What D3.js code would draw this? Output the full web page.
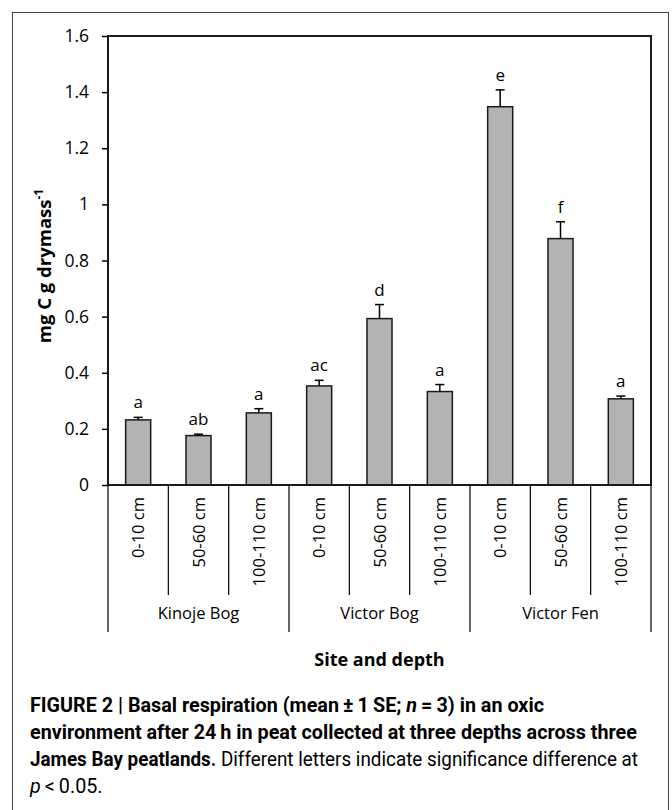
<!DOCTYPE html>
<html>
<head>
<meta charset="utf-8">
<script src="https://cdn.jsdelivr.net/npm/d3@7"></script>
<style>
  body { margin: 0; background: #fff; }
  svg { display: block; }
  .chart text { font-family: "Open Sans", "Noto Sans", sans-serif; fill: #000; }
  .caption text { font-family: "Liberation Sans Narrow", "Roboto", sans-serif; fill: #000; }
</style>
</head>
<body>
<svg id="fig" width="672" height="810"></svg>
<script>
// sites and depths, in drawing order
var sites = ['Kinoje Bog', 'Victor Bog', 'Victor Fen'];
var depths = ['0-10 cm', '50-60 cm', '100-110 cm'];

// mean basal respiration and 1 SE, one per site/depth
var means = [0.232, 0.176, 0.257, 0.353, 0.593, 0.333, 1.348, 0.878, 0.307];
var errors = [0.009, 0.005, 0.015, 0.020, 0.050, 0.025, 0.060, 0.060, 0.010];
var letters = ['a', 'ab', 'a', 'ac', 'd', 'a', 'e', 'f', 'a'];

var yTicks = [0, 0.2, 0.4, 0.6, 0.8, 1, 1.2, 1.4, 1.6];

(function() {
  var svg = d3.select('#fig');

  // outer frame
  svg.append('rect')
    .attr('x', 12.5).attr('y', 12.5)
    .attr('width', 656).attr('height', 810)
    .attr('fill', 'none').attr('stroke', '#444').attr('stroke-width', 1);

  var pLeft = 108, pRight = 651, pTop = 36, pBottom = 485;

  var keys = [];
  sites.forEach(function(s) {
    depths.forEach(function(d) { keys.push(s + '|' + d); });
  });

  var rows = keys.map(function(k, i) {
    return { key: k, site: k.split('|')[0], depth: k.split('|')[1], mean: means[i], se: errors[i], letter: letters[i] };
  });

  var x = d3.scaleBand().domain(keys).range([pLeft, pRight]).padding(0);
  var y = d3.scaleLinear().domain([0, 1.6]).range([pBottom, pTop]);
  var xSite = d3.scaleBand().domain(sites).range([pLeft, pRight]).padding(0);

  var barW = x.bandwidth() * 0.415;

  var g = svg.append('g').attr('class', 'chart');

  // y axis
  var yAxis = d3.axisLeft(y)
    .tickValues(yTicks)
    .tickFormat(function(d) { return String(+d.toFixed(1)); })
    .tickSize(6)
    .tickPadding(13);

  var ya = g.append('g')
    .attr('transform', 'translate(' + pLeft + ',0)')
    .call(yAxis);
  ya.select('.domain').remove();
  ya.attr('font-family', null);
  ya.selectAll('.tick line').attr('stroke', '#000').attr('stroke-width', 1.5);
  ya.selectAll('.tick text').style('font-size', '17.5px');

  // bars
  g.selectAll('rect.bar')
    .data(rows)
    .enter().append('rect')
    .attr('class', 'bar')
    .attr('x', function(d) { return x(d.key) + (x.bandwidth() - barW) / 2; })
    .attr('y', function(d) { return y(d.mean); })
    .attr('width', barW)
    .attr('height', function(d) { return y(0) - y(d.mean); })
    .attr('fill', '#b3b3b3')
    .attr('stroke', '#1a1a1a')
    .attr('stroke-width', 1.5);

  // error bars (upper only) and letters
  var eb = g.selectAll('g.err')
    .data(rows)
    .enter().append('g')
    .attr('class', 'err')
    .attr('transform', function(d) { return 'translate(' + (x(d.key) + x.bandwidth() / 2) + ',0)'; });

  eb.append('line')
    .attr('x1', 0).attr('x2', 0)
    .attr('y1', function(d) { return y(d.mean); })
    .attr('y2', function(d) { return y(d.mean + d.se); })
    .attr('stroke', '#000').attr('stroke-width', 1.5);

  eb.append('line')
    .attr('x1', -4.5).attr('x2', 4.5)
    .attr('y1', function(d) { return y(d.mean + d.se); })
    .attr('y2', function(d) { return y(d.mean + d.se); })
    .attr('stroke', '#000').attr('stroke-width', 1.5);

  eb.append('text')
    .attr('y', function(d) { return y(d.mean + d.se) - 9; })
    .attr('text-anchor', 'middle')
    .style('font-size', '17px')
    .text(function(d) { return d.letter; });

  // plot box
  g.append('rect')
    .attr('x', pLeft).attr('y', pTop)
    .attr('width', pRight - pLeft).attr('height', pBottom - pTop)
    .attr('fill', 'none').attr('stroke', '#1a1a1a').attr('stroke-width', 2);

  // category axis: separators and labels
  var inner = keys.filter(function(k, i) { return i % depths.length !== 0; });
  g.selectAll('line.sep')
    .data(inner)
    .enter().append('line')
    .attr('x1', function(k) { return x(k); })
    .attr('x2', function(k) { return x(k); })
    .attr('y1', pBottom).attr('y2', 595)
    .attr('stroke', '#000').attr('stroke-width', 1.2);

  var groupEdges = sites.map(function(s) { return xSite(s); }).concat([pRight]);
  g.selectAll('line.gsep')
    .data(groupEdges)
    .enter().append('line')
    .attr('x1', function(v) { return v; })
    .attr('x2', function(v) { return v; })
    .attr('y1', pBottom).attr('y2', 632)
    .attr('stroke', '#000').attr('stroke-width', 1.2);

  g.selectAll('text.depth')
    .data(rows)
    .enter().append('text')
    .attr('class', 'depth')
    .attr('transform', function(d) {
      return 'translate(' + (x(d.key) + x.bandwidth() / 2 + 6) + ',' + 497 + ') rotate(-90)';
    })
    .attr('text-anchor', 'end')
    .style('font-size', '16.5px')
    .text(function(d) { return d.depth; });

  g.selectAll('text.site')
    .data(sites)
    .enter().append('text')
    .attr('x', function(s) { return xSite(s) + xSite.bandwidth() / 2; })
    .attr('y', 619)
    .attr('text-anchor', 'middle')
    .style('font-size', '16.5px')
    .text(function(s) { return s; });

  g.append('text')
    .attr('x', (pLeft + pRight) / 2)
    .attr('y', 666)
    .attr('text-anchor', 'middle')
    .style('font-size', '18px')
    .style('font-weight', 'bold')
    .text('Site and depth');

  var yl = g.append('text')
    .attr('transform', 'translate(51,266) rotate(-90)')
    .attr('text-anchor', 'middle')
    .style('font-size', '18.5px')
    .style('font-weight', 'bold');
  yl.append('tspan').text('mg C g drymass');
  yl.append('tspan').attr('dy', -8).style('font-size', '12px').text('-1');

  // caption
  var cap = svg.append('g').attr('class', 'caption');
  var lines = [
    [['FIGURE 2 | Basal respiration (mean\u2009\u00b1\u20091\u2009SE; ', 'b'], ['n', 'bi'], ['\u2009=\u20093) in an oxic', 'b']],
    [['environment after 24\u2009h in peat collected at three depths across three', 'b']],
    [['James Bay peatlands.', 'b'], [' Different letters indicate significance difference at', 'r']],
    [['p', 'i'], ['\u2009<\u20090.05.', 'r']]
  ];
  var baselines = [712, 739, 766, 793];
  var texts = lines.map(function(parts, i) {
    var t = cap.append('text').attr('x', 30).attr('y', baselines[i]).style('font-size', '18px');
    parts.forEach(function(p) {
      t.append('tspan')
        .style('font-weight', p[1].indexOf('b') >= 0 ? 'bold' : 'normal')
        .style('font-style', p[1].indexOf('i') >= 0 ? 'italic' : 'normal')
        .text(p[0]);
    });
    return t;
  });
  // fit the long bold line to the width it has in the figure
  var w = texts[1].node().getComputedTextLength();
  var fs = 18 * 607 / w;
  texts.forEach(function(t) { t.style('font-size', fs + 'px'); });
  // third line is set condensed in the figure; squeeze it to the same width
  var w3 = texts[2].node().getComputedTextLength();
  if (w3 > 608) texts[2].attr('textLength', 608).attr('lengthAdjust', 'spacingAndGlyphs');
})();
</script>
</body>
</html>
